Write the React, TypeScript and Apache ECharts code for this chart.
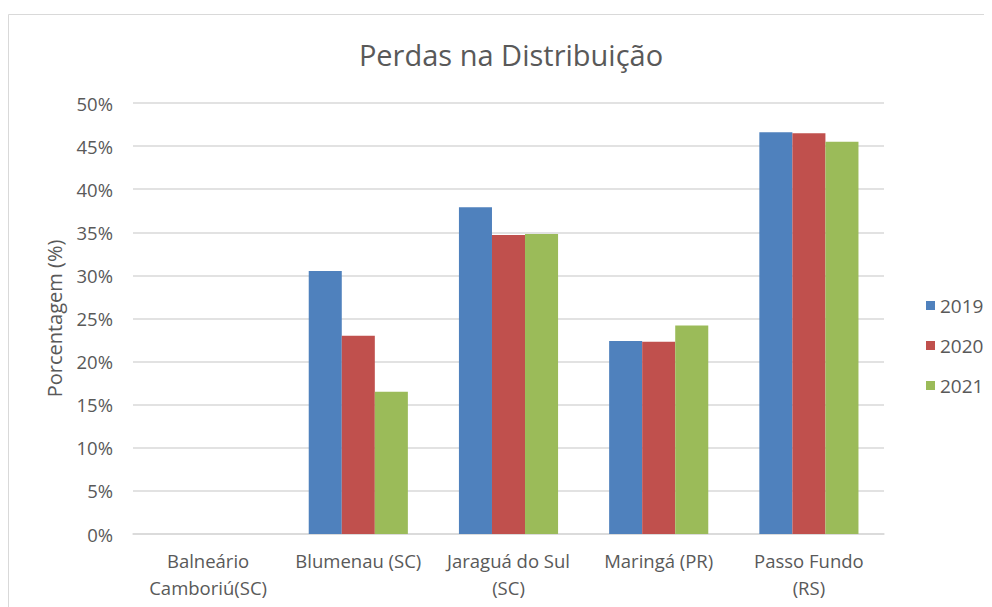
import React, { useEffect, useRef } from "react";
import * as echarts from "echarts";

const categories = [
  "Balneário\nCamboriú(SC)",
  "Blumenau (SC)",
  "Jaraguá do Sul\n(SC)",
  "Maringá (PR)",
  "Passo Fundo\n(RS)",
];
const years = ["2019", "2020", "2021"];
const values2019 = [0, 30.5, 37.9, 22.4, 46.6];
const values2020 = [0, 23.0, 34.7, 22.3, 46.5];
const values2021 = [0, 16.5, 34.8, 24.2, 45.5];
const colors = ["#4F81BD", "#C0504D", "#9BBB59"];
const FONT = "Open Sans";
const TEXT = "#595959";

export default function App() {
  const ref = useRef<HTMLDivElement>(null);
  useEffect(() => {
    if (!ref.current) return;
    const chart = echarts.init(ref.current, null, { renderer: "svg" });
    const seriesData = [values2019, values2020, values2021];
    chart.setOption({
      animation: false,
      textStyle: { fontFamily: FONT, color: TEXT },
      title: {
        text: "Perdas na Distribuição",
        left: 498,
        top: 27,
        textAlign: "center",
        textStyle: { fontFamily: FONT, fontSize: 29, fontWeight: "normal", color: TEXT },
      },
      graphic: [
        {
          type: "rect",
          shape: { x: 0.5, y: 6.5, width: 1200, height: 800 },
          style: { fill: "none", stroke: "#D9D9D9", lineWidth: 1 },
          silent: true,
        },
      ],
      legend: {
        orient: "vertical",
        left: 913,
        top: 283,
        itemWidth: 9,
        itemHeight: 9,
        itemGap: 21,
        icon: "rect",
        textStyle: { fontFamily: FONT, fontSize: 19, color: TEXT },
        data: years,
      },
      grid: { left: 125, right: 108, top: 95, bottom: 73, containLabel: false },
      xAxis: {
        type: "category",
        data: categories,
        axisLine: { lineStyle: { color: "#D9D9D9", width: 1.5 } },
        axisTick: { show: false },
        axisLabel: {
          fontFamily: FONT,
          fontSize: 18.5,
          color: TEXT,
          margin: 13,
          lineHeight: 27,
          interval: 0,
        },
      },
      yAxis: {
        type: "value",
        min: 0,
        max: 50,
        interval: 5,
        name: "Porcentagem (%)",
        nameLocation: "middle",
        nameGap: 69,
        nameTextStyle: { fontFamily: FONT, fontSize: 20, color: TEXT },
        axisLine: { show: false },
        axisTick: { show: false },
        splitLine: { lineStyle: { color: "#D9D9D9", width: 1.5 } },
        axisLabel: {
          fontFamily: FONT,
          fontSize: 18.5,
          color: TEXT,
          margin: 20,
          formatter: (v: number) => `${v}%`,
        },
      },
      series: years.map((y, i) => ({
        name: y,
        type: "bar",
        data: seriesData[i],
        itemStyle: { color: colors[i] },
        barGap: "0%",
        barCategoryGap: "34%",
      })),
    });
    return () => chart.dispose();
  }, []);
  return <div ref={ref} style={{ width: 984, height: 599 }} />;
}
